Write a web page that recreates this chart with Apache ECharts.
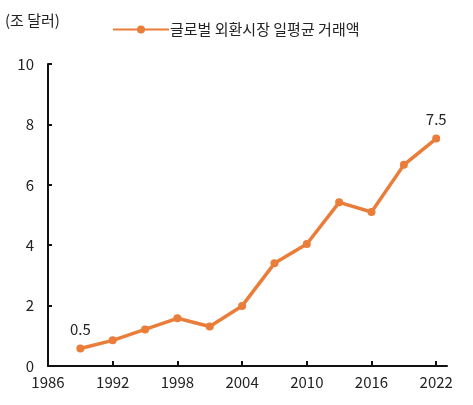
<!DOCTYPE html>
<html>
<head>
<meta charset="utf-8">
<script src="https://cdn.jsdelivr.net/npm/echarts@6/dist/echarts.min.js"></script>
<style>
  html, body { margin: 0; padding: 0; background: #fff; }
  #main { width: 473px; height: 405px; }
</style>
</head>
<body>
<div id="main"></div>
<script>
// 조사 연도 (3년마다)
var years = [1989, 1992, 1995, 1998, 2001, 2004, 2007, 2010, 2013, 2016, 2019, 2022];
// 글로벌 외환시장 일평균 거래액 (조 달러)
var turnover = [0.58, 0.85, 1.21, 1.58, 1.31, 1.99, 3.4, 4.04, 5.42, 5.1, 6.66, 7.53];
var xTicks = [1986, 1992, 1998, 2004, 2010, 2016, 2022];
var seriesName = '글로벌 외환시장 일평균 거래액';

var font = '"Noto Sans CJK KR", "Noto Sans", sans-serif';
var orange = '#EA7D39';

var chart = echarts.init(document.getElementById('main'));

var points = years.map(function (y, i) { return [y, turnover[i]]; });

chart.setOption({
  animation: false,
  textStyle: { fontFamily: font },
  grid: { left: 48, right: 26, top: 64, bottom: 39 },
  graphic: [{
    type: 'text',
    left: 5, top: 13,
    style: { text: '(조 달러)', fill: '#222', font: '15px ' + font }
  }],
  legend: {
    data: [seriesName],
    left: 107, top: 17,
    itemWidth: 56, itemHeight: 10,
    itemGap: 2,
    textStyle: { fontSize: 15, color: '#222', fontFamily: font, padding: [0, 0, 0, -4] }
  },
  xAxis: {
    type: 'value',
    min: 1986, max: 2023,
    interval: 6,
    splitLine: { show: false },
    axisLine: { show: true, lineStyle: { color: '#111', width: 2 } },
    axisTick: { show: true, inside: true, length: 5, lineStyle: { color: '#111', width: 2 }, customValues: xTicks },
    axisLabel: {
      color: '#222', fontSize: 15, margin: 9, fontFamily: font, customValues: xTicks,
      formatter: function (v) { return String(v); }
    }
  },
  yAxis: {
    type: 'value',
    min: 0, max: 10, interval: 2,
    splitLine: { show: false },
    axisLine: { show: true, lineStyle: { color: '#111', width: 2 } },
    axisTick: { show: true, inside: true, length: 4, lineStyle: { color: '#111', width: 2 } },
    axisLabel: { color: '#222', fontSize: 15, margin: 14, fontFamily: font }
  },
  series: [{
    name: seriesName,
    type: 'line',
    data: points,
    symbol: 'circle',
    symbolSize: 8,
    lineStyle: { color: orange, width: 3.5 },
    itemStyle: { color: orange },
    label: {
      show: true,
      position: 'top',
      distance: 8,
      fontSize: 15,
      color: '#222',
      fontFamily: font,
      formatter: function (p) {
        var i = p.dataIndex;
        if (i === 0) return '0.5';
        if (i === years.length - 1) return '7.5';
        return '';
      }
    }
  }]
});
</script>
</body>
</html>
